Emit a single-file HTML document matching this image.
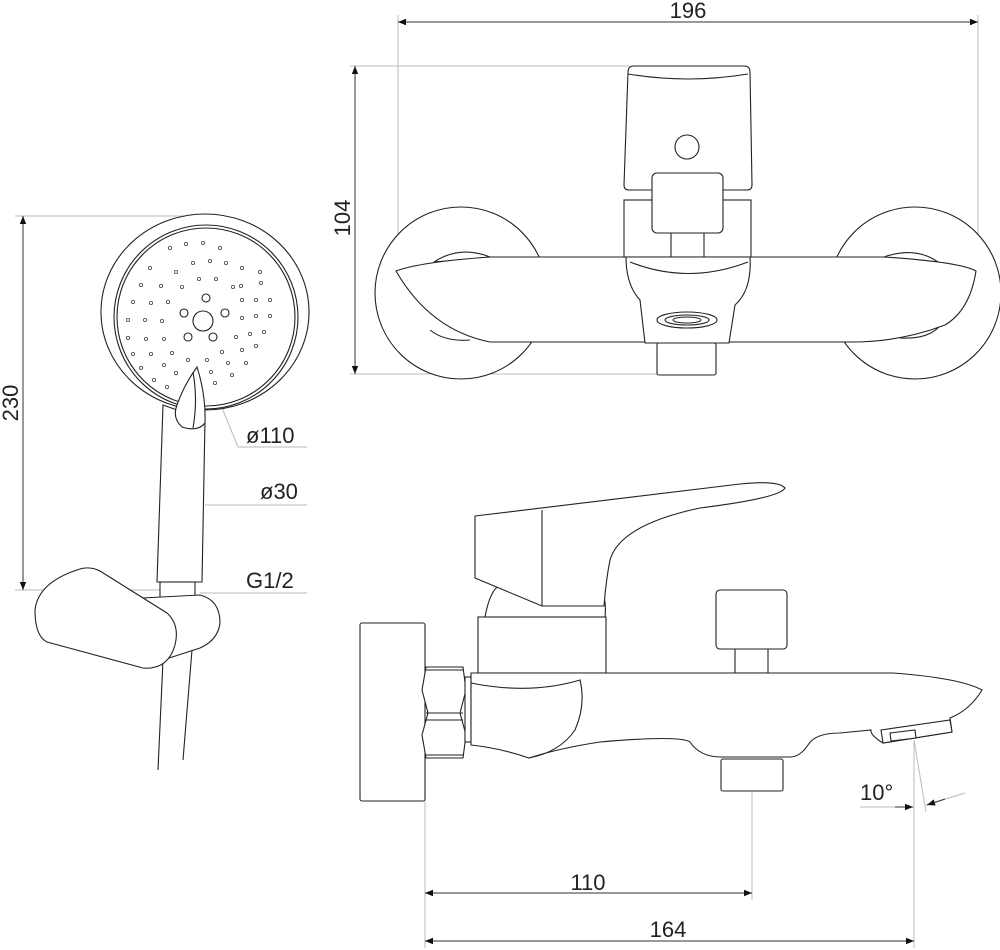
<!DOCTYPE html>
<html><head><meta charset="utf-8"><style>
html,body{margin:0;padding:0;background:#fff;width:1000px;height:950px;overflow:hidden}
svg{display:block}
text{font-family:"Liberation Sans","DejaVu Sans",sans-serif;fill:#222}
</style></head><body>
<svg width="1000" height="950" viewBox="0 0 1000 950" xmlns="http://www.w3.org/2000/svg">
<defs>
<marker id="a" viewBox="0 0 10 10" refX="10" refY="5" markerWidth="12" markerHeight="8" orient="auto-start-reverse" markerUnits="userSpaceOnUse"><path d="M0,1 L10,5 L0,9z" fill="#111"/></marker>
</defs>
<g stroke="#bbb" stroke-width="1" fill="none">
<line x1="398" y1="15" x2="398" y2="262"/><line x1="978" y1="15" x2="978" y2="290"/>
<line x1="350" y1="66" x2="630" y2="66"/><line x1="350" y1="374" x2="660" y2="374"/>
<line x1="15" y1="216" x2="205" y2="216"/><line x1="15" y1="590" x2="165" y2="590"/>
<polyline points="220,403 238,447 307,447"/><line x1="205" y1="505" x2="307" y2="505"/><line x1="200" y1="593" x2="307" y2="593"/>
<line x1="425" y1="800" x2="425" y2="948"/><line x1="752" y1="792" x2="752" y2="900"/>
<line x1="914" y1="740" x2="914" y2="948"/><line x1="914" y1="740" x2="926" y2="812"/>
<line x1="860" y1="807" x2="914" y2="807"/><line x1="926" y1="805" x2="965" y2="793"/>
</g>
<g stroke="#333" stroke-width="1" fill="none">
<line x1="398" y1="22" x2="978" y2="22" marker-start="url(#a)" marker-end="url(#a)"/>
<line x1="355" y1="66" x2="355" y2="374" marker-start="url(#a)" marker-end="url(#a)"/>
<line x1="23" y1="216" x2="23" y2="590" marker-start="url(#a)" marker-end="url(#a)"/>
<line x1="425" y1="893" x2="752" y2="893" marker-start="url(#a)" marker-end="url(#a)"/>
<line x1="425" y1="941" x2="914" y2="941" marker-start="url(#a)" marker-end="url(#a)"/>
<line x1="895" y1="807" x2="913" y2="807" marker-end="url(#a)"/>
<line x1="945" y1="799" x2="927" y2="805" marker-end="url(#a)"/>
</g>
<text x="688" y="18" font-size="22" text-anchor="middle">196</text>
<text transform="translate(350,218) rotate(-90)" font-size="22" text-anchor="middle">104</text>
<text transform="translate(18,403) rotate(-90)" font-size="22" text-anchor="middle">230</text>
<text x="246" y="443" font-size="22">ø110</text>
<text x="260" y="499" font-size="22">ø30</text>
<text x="246" y="588" font-size="22">G1/2</text>
<text x="588" y="890" font-size="22" text-anchor="middle">110</text>
<text x="668" y="937" font-size="22" text-anchor="middle">164</text>
<text x="860" y="800" font-size="22">10°</text>

<g stroke="#222" stroke-width="1.1" fill="#fff">
<circle cx="461" cy="293" r="86"/>
<circle cx="915" cy="293" r="86"/>
<path d="M434,262 Q460,245 490,257 L434,262Z" fill="none"/>
<path d="M884,257 Q915,246 938,262" fill="none"/>
<path d="M430,330 Q445,342 470,340" fill="none"/>
<path d="M945,318 Q935,340 900,338" fill="none"/>
<path d="M490,257 L884,257 Q960,262 976,271 Q970,310 945,325 Q900,342 852,342 L490,342 Q430,330 396,271 Q420,262 490,257Z"/>
<path d="M628,72 Q628,66 634,66 L744,66 Q750,66 750,72 L752,185 Q752,190 747,190 L629,190 Q624,190 624,185Z"/>
<path d="M628,74 Q688,84 748,74" fill="none"/>
<circle cx="687" cy="147" r="12"/>
<rect x="624" y="200" width="127" height="57"/>
<rect x="671" y="232" width="33" height="25"/>
<rect x="652" y="173" width="71" height="60" rx="5"/>
<path d="M626,257 L750,257 Q752,290 735,305 L729,343 L645,343 L640,300 Q626,285 626,257Z"/>
<path d="M630,262 Q688,285 748,262" fill="none"/>
<rect x="657" y="343" width="59" height="32" rx="2"/>
<ellipse cx="687" cy="320" rx="30" ry="8"/>
<ellipse cx="687" cy="320" rx="22" ry="5"/>
<ellipse cx="687" cy="320" rx="14" ry="3"/>

<ellipse cx="205" cy="312" rx="104" ry="98"/>
<circle cx="206" cy="317" r="92"/>
<circle cx="206" cy="317" r="89"/>
<circle cx="203" cy="321" r="10"/>
<circle cx="206" cy="298" r="4"/><circle cx="184" cy="313" r="4"/><circle cx="225" cy="313" r="4"/><circle cx="188" cy="337" r="4"/><circle cx="213" cy="337" r="4"/>
</g>
<g fill="none" stroke="#444" stroke-width="0.8">
<circle cx="186" cy="244" r="1.6"/><circle cx="203" cy="243" r="1.6"/><circle cx="220" cy="248" r="1.6"/><circle cx="170" cy="248" r="1.6"/><circle cx="150" cy="268" r="1.6"/><circle cx="193" cy="263" r="1.6"/><circle cx="210" cy="261" r="1.6"/><circle cx="226" cy="263" r="1.6"/><circle cx="242" cy="268" r="1.6"/><circle cx="260" cy="272" r="1.6"/>
<circle cx="176" cy="272" r="1.6"/><circle cx="199" cy="279" r="1.6"/><circle cx="216" cy="279" r="1.6"/><circle cx="241" cy="286" r="1.6"/><circle cx="261" cy="283" r="1.6"/><circle cx="141" cy="285" r="1.6"/><circle cx="161" cy="286" r="1.6"/><circle cx="182" cy="287" r="1.6"/><circle cx="233" cy="287" r="1.6"/>
<circle cx="133" cy="302" r="1.6"/><circle cx="151" cy="303" r="1.6"/><circle cx="168" cy="302" r="1.6"/><circle cx="242" cy="300" r="1.6"/><circle cx="256" cy="300" r="1.6"/><circle cx="270" cy="300" r="1.6"/>
<circle cx="128" cy="320" r="1.6"/><circle cx="145" cy="320" r="1.6"/><circle cx="162" cy="321" r="1.6"/><circle cx="242" cy="318" r="1.6"/><circle cx="256" cy="316" r="1.6"/><circle cx="270" cy="316" r="1.6"/>
<circle cx="128" cy="338" r="1.6"/><circle cx="146" cy="339" r="1.6"/><circle cx="164" cy="339" r="1.6"/><circle cx="236" cy="337" r="1.6"/><circle cx="250" cy="334" r="1.6"/><circle cx="264" cy="332" r="1.6"/>
<circle cx="133" cy="354" r="1.6"/><circle cx="151" cy="354" r="1.6"/><circle cx="172" cy="353" r="1.6"/><circle cx="222" cy="352" r="1.6"/><circle cx="242" cy="350" r="1.6"/><circle cx="256" cy="346" r="1.6"/>
<circle cx="141" cy="368" r="1.6"/><circle cx="164" cy="365" r="1.6"/><circle cx="188" cy="360" r="1.6"/><circle cx="207" cy="360" r="1.6"/><circle cx="228" cy="363" r="1.6"/><circle cx="246" cy="363" r="1.6"/>
<circle cx="154" cy="380" r="1.6"/><circle cx="176" cy="373" r="1.6"/><circle cx="211" cy="372" r="1.6"/><circle cx="232" cy="375" r="1.6"/><circle cx="215" cy="383" r="1.6"/><circle cx="167" cy="387" r="1.6"/>
</g>
<g stroke="#222" stroke-width="1.1" fill="#fff">
<path d="M163,405 L157,582 L202,582 L205,420 Z"/>
<rect x="160" y="582" width="35" height="21"/>
<path d="M197,367 Q206,395 205,423 Q198,432 182,427 Q172,418 177,405 Q184,385 197,367Z"/>
<path d="M193,372 Q198,400 193,428" fill="none"/>
<path d="M163,660 L158,770 M192,650 L183,760" fill="none"/>
<path d="M142,598 L200,595 Q220,600 220,623 Q218,640 200,648 L163,660 Q150,640 142,598Z"/>
<path d="M80,569 Q90,566 100,571 L167,613 Q180,625 175,645 Q168,670 143,668 L47,642 Q35,636 35,610 Q38,582 80,569Z"/>

<rect x="360" y="623" width="65" height="178" rx="2"/>
<path d="M426,667 L463,667 L466,690 L460,713 L466,735 L463,758 L426,758 L422,735 L428,713 L422,690Z"/>
<line x1="426" y1="713" x2="463" y2="713"/><line x1="426" y1="720" x2="463" y2="720"/>
<line x1="426" y1="670" x2="463" y2="670"/><line x1="426" y1="755" x2="463" y2="755"/>
<rect x="465" y="677" width="6" height="65"/>
<path d="M485,617 Q490,590 500,585 L600,585 Q607,600 605,617Z"/>
<rect x="478" y="617" width="128" height="56"/>
<rect x="735" y="648" width="33" height="25"/>
<rect x="716" y="590" width="71" height="59" rx="4"/>
<path d="M471,673 L893,673 Q960,678 982,690 Q970,710 950,718 L952,732 L883,743 Q870,735 871,730 L840,733 Q815,733 808,745 Q800,757 790,757 L721,757 Q700,757 690,742 Q680,735 600,742 Q560,748 529,758 Q500,748 471,745Z"/>
<path d="M471,683 Q530,695 580,680 Q586,705 575,730 Q560,752 529,758" fill="none"/>
<path d="M881,730 L950,720 L952,732 L883,743Z"/>
<path d="M890,733 L915,730 L916,738 L891,741Z"/>
<rect x="721" y="759" width="62" height="32" rx="2"/>
<path d="M475,516 L740,484 Q778,480 785,488 Q780,498 700,508 Q620,525 610,560 Q606,580 604,606 L542,606 L475,578Z"/>
<line x1="542" y1="510" x2="542" y2="606"/>
</g>
</svg>
</body></html>
